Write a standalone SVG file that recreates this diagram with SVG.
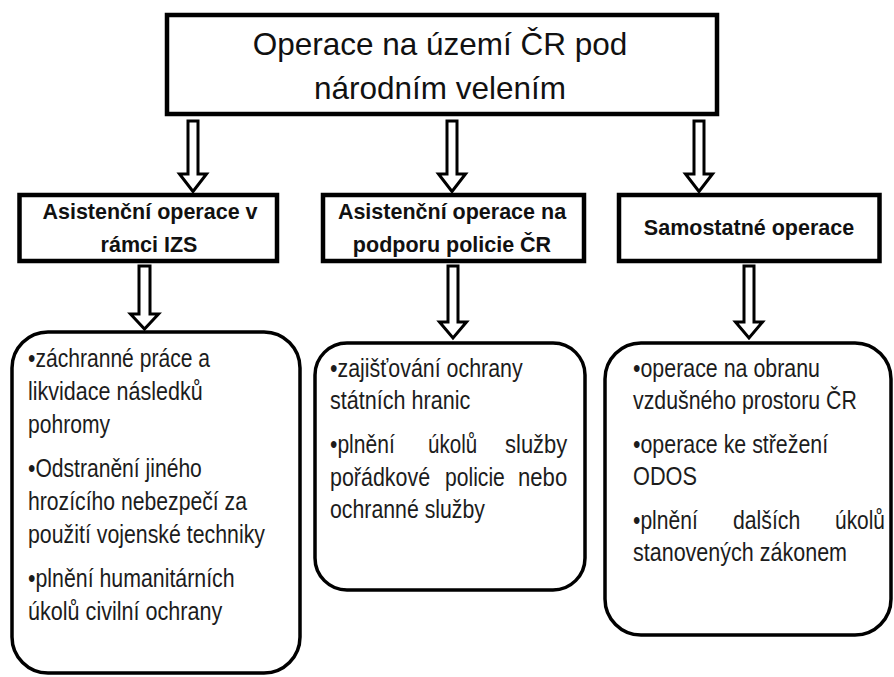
<svg xmlns="http://www.w3.org/2000/svg" width="894" height="677" viewBox="0 0 894 677">
<style>
.box{fill:#fff;stroke:#000;stroke-width:4.5}
.rbox{fill:#fff;stroke:#000;stroke-width:3.5}
.arr{fill:#fff;stroke:#000;stroke-width:3;stroke-linejoin:miter}
.title{font-family:"Liberation Sans",Arial,sans-serif;font-size:31.5px;fill:#111;text-anchor:middle}
.h2{font-family:"Liberation Sans",Arial,sans-serif;font-size:21.5px;font-weight:bold;fill:#111;text-anchor:middle}
.body{font-family:"Liberation Sans",Arial,sans-serif;font-size:26px;fill:#1c1c1c}
</style>
<rect width="894" height="677" fill="#fff"/>
<g id="connectors">
<path class="arr" d="M188,121 H198 V174 H206.5 L193,191.5 L179.5,174 H188 Z"/>
<path class="arr" d="M447,121 H457 V174 H465.5 L452,191.5 L438.5,174 H447 Z"/>
<path class="arr" d="M694,121 H704 V174 H712.5 L699,191.5 L685.5,174 H694 Z"/>
<path class="arr" d="M139,266 H150 V314 H158.5 L144.5,329 L130.5,314 H139 Z"/>
<path class="arr" d="M448,266 H458 V322 H466.5 L453,338 L439.5,322 H448 Z"/>
<path class="arr" d="M744,266 H754 V322 H762.5 L749,338 L735.5,322 H744 Z"/>
</g>
<g id="root">
<rect class="box" x="167" y="15" width="550" height="99"/>
<text class="title" x="440" y="55">Operace na území ČR pod</text>
<text class="title" x="440" y="99">národním velením</text>
</g>
<g id="izs">
<rect class="box" x="19.5" y="195" width="257.5" height="66"/>
<text class="h2" x="150" y="219">Asistenční operace v</text>
<text class="h2" x="149" y="252">rámci IZS</text>
</g>
<g id="policie">
<rect class="box" x="323" y="195" width="261" height="66"/>
<text class="h2" x="452" y="219">Asistenční operace na</text>
<text class="h2" x="452" y="252">podporu policie ČR</text>
</g>
<g id="samostatne">
<rect class="box" x="619" y="195" width="260.5" height="66"/>
<text class="h2" x="749" y="235">Samostatné operace</text>
</g>
<g id="izs-list">
<rect class="rbox" x="12" y="332" width="288" height="341" rx="36" ry="36"/>
<text class="body" transform="translate(28,367) scale(0.82,1)" textLength="222" lengthAdjust="spacingAndGlyphs">•záchranné práce a</text>
<text class="body" transform="translate(28,400) scale(0.82,1)" textLength="213" lengthAdjust="spacingAndGlyphs">likvidace následků</text>
<text class="body" transform="translate(28,433) scale(0.82,1)" textLength="100" lengthAdjust="spacingAndGlyphs">pohromy</text>
<text class="body" transform="translate(28,477) scale(0.82,1)" textLength="212" lengthAdjust="spacingAndGlyphs">•Odstranění jiného</text>
<text class="body" transform="translate(28,510) scale(0.82,1)" textLength="267" lengthAdjust="spacingAndGlyphs">hrozícího nebezpečí za</text>
<text class="body" transform="translate(28,543) scale(0.82,1)" textLength="289" lengthAdjust="spacingAndGlyphs">použití vojenské techniky</text>
<text class="body" transform="translate(28,587) scale(0.82,1)" textLength="252" lengthAdjust="spacingAndGlyphs">•plnění humanitárních</text>
<text class="body" transform="translate(28,620) scale(0.82,1)" textLength="237" lengthAdjust="spacingAndGlyphs">úkolů civilní ochrany</text>
</g>
<g id="policie-list">
<rect class="rbox" x="315" y="343" width="270" height="247" rx="32" ry="32"/>
<text class="body" transform="translate(330,377) scale(0.82,1)" textLength="235" lengthAdjust="spacingAndGlyphs">•zajišťování ochrany</text>
<text class="body" transform="translate(330,409) scale(0.82,1)" textLength="171" lengthAdjust="spacingAndGlyphs">státních hranic</text>
<text class="body" transform="translate(330,453) scale(0.82,1)" textLength="79" lengthAdjust="spacingAndGlyphs">•plnění</text>
<text class="body" transform="translate(428,453) scale(0.82,1)" textLength="60" lengthAdjust="spacingAndGlyphs">úkolů</text>
<text class="body" transform="translate(505,453) scale(0.82,1)" textLength="76" lengthAdjust="spacingAndGlyphs">služby</text>
<text class="body" transform="translate(330,486) scale(0.82,1)" textLength="122" lengthAdjust="spacingAndGlyphs">pořádkové</text>
<text class="body" transform="translate(445,486) scale(0.82,1)" textLength="73" lengthAdjust="spacingAndGlyphs">policie</text>
<text class="body" transform="translate(518,486) scale(0.82,1)" textLength="60" lengthAdjust="spacingAndGlyphs">nebo</text>
<text class="body" transform="translate(330,518) scale(0.82,1)" textLength="189" lengthAdjust="spacingAndGlyphs">ochranné služby</text>
</g>
<g id="samostatne-list">
<rect class="rbox" x="605" y="343" width="286" height="292" rx="36" ry="36"/>
<text class="body" transform="translate(633,377) scale(0.82,1)" textLength="228" lengthAdjust="spacingAndGlyphs">•operace na obranu</text>
<text class="body" transform="translate(633,409) scale(0.82,1)" textLength="273" lengthAdjust="spacingAndGlyphs">vzdušného prostoru ČR</text>
<text class="body" transform="translate(633,453) scale(0.82,1)" textLength="238" lengthAdjust="spacingAndGlyphs">•operace ke střežení</text>
<text class="body" transform="translate(633,485) scale(0.82,1)" textLength="78" lengthAdjust="spacingAndGlyphs">ODOS</text>
<text class="body" transform="translate(633,529) scale(0.82,1)" textLength="79" lengthAdjust="spacingAndGlyphs">•plnění</text>
<text class="body" transform="translate(733,529) scale(0.82,1)" textLength="82" lengthAdjust="spacingAndGlyphs">dalších</text>
<text class="body" transform="translate(835,529) scale(0.82,1)" textLength="61" lengthAdjust="spacingAndGlyphs">úkolů</text>
<text class="body" transform="translate(633,561) scale(0.82,1)" textLength="261" lengthAdjust="spacingAndGlyphs">stanovených zákonem</text>
</g>
</svg>
